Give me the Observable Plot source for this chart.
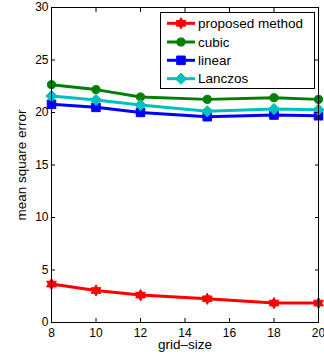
<!DOCTYPE html>
<html><head><meta charset="utf-8">
<script src="https://cdn.jsdelivr.net/npm/d3@7"></script>
<script src="https://cdn.jsdelivr.net/npm/@observablehq/plot@0.6"></script>
<style>body{margin:0;background:#fff}#chart{width:324px;height:356px}</style>
</head><body><div id="chart"></div>
<script>
const gridSize = [8, 10, 12, 15, 18, 20];
const proposed = [3.66, 3.05, 2.61, 2.26, 1.85, 1.85];
const cubic = [22.65, 22.18, 21.48, 21.25, 21.41, 21.25];
const linear = [20.78, 20.49, 20.01, 19.60, 19.76, 19.69];
const lanczos = [21.57, 21.19, 20.71, 20.11, 20.33, 20.27];
const seriesNames = ["proposed method", "cubic", "linear", "Lanczos"];
const seriesValues = [proposed, cubic, linear, lanczos];
const seriesColors = ["#ff0000", "#008000", "#0000ff", "#00bfbf"];
const xTicks = [8, 10, 12, 14, 16, 18, 20];
const yTicks = [0, 5, 10, 15, 20, 25, 30];

const hexagram = {draw(ctx, size) {
  const R = Math.sqrt(size / Math.PI) * 1.25, r = R / Math.sqrt(3);
  for (let i = 0; i < 12; i++) {
    const a = -Math.PI / 2 + i * Math.PI / 6, rr = i % 2 ? r : R;
    const x = rr * Math.cos(a), y = rr * Math.sin(a);
    i ? ctx.lineTo(x, y) : ctx.moveTo(x, y);
  }
  ctx.closePath();
}};
const diamond = {draw(ctx, size) {
  const R = Math.sqrt(size / Math.PI) * 1.25;
  ctx.moveTo(0, -R); ctx.lineTo(R, 0); ctx.lineTo(0, R); ctx.lineTo(-R, 0); ctx.closePath();
}};
const circle = {draw(ctx, size) { const r = Math.sqrt(size / Math.PI) * 0.9; ctx.moveTo(r, 0); ctx.arc(0, 0, r, 0, 2 * Math.PI); }};
const square = {draw(ctx, size) { const s = Math.sqrt(size / Math.PI) * 0.95; ctx.rect(-s, -s, 2 * s, 2 * s); }};
const symbols = [hexagram, circle, square, diamond];

const rows = [];
seriesNames.forEach((name, i) => gridSize.forEach((g, j) => rows.push({series: name, idx: i, x: g, y: seriesValues[i][j]})));

const fontFamily = "'Liberation Sans', Arial, Helvetica, sans-serif";
const marks = [];
seriesNames.forEach((name, i) => {
  const data = rows.filter(d => d.idx === i);
  marks.push(Plot.line(data, {x: "x", y: "y", stroke: seriesColors[i], strokeWidth: 3}));
  marks.push(Plot.dot(data, {x: "x", y: "y", symbol: () => symbols[i], r: 4.5, fill: seriesColors[i], stroke: seriesColors[i], strokeWidth: 1}));
});

const blank = () => "";
const chart = Plot.plot({
  width: 324, height: 356,
  marginLeft: 51, marginRight: 6, marginTop: 7, marginBottom: 34,
  style: {fontFamily, fontSize: "13.5px", color: "#000", background: "#fff"},
  x: {domain: [8, 20]},
  y: {domain: [0, 30]},
  marks: [
    ...marks,
    Plot.axisX(xTicks, {anchor: "bottom", tickSize: 0, tickPadding: 6, label: null, fontSize: 12}),
    Plot.axisX([], {anchor: "bottom", tickSize: 0, tickFormat: blank, label: "grid–size", labelAnchor: "center", labelArrow: "none", labelOffset: 26, fontSize: 13.5}),
    Plot.axisX(xTicks, {anchor: "bottom", tickSize: -4, tickFormat: blank, label: null}),
    Plot.axisX(xTicks, {anchor: "top", tickSize: -4, tickFormat: blank, label: null}),
    Plot.axisY(yTicks, {anchor: "left", tickSize: 0, tickPadding: 3, label: null, fontSize: 12}),
    Plot.axisY([], {anchor: "left", tickSize: 0, tickFormat: blank, label: "mean square error", labelAnchor: "center", labelArrow: "none", labelOffset: 35.5, fontSize: 13.5}),
    Plot.axisY(yTicks, {anchor: "left", tickSize: -4, tickFormat: blank, label: null}),
    Plot.axisY(yTicks, {anchor: "right", tickSize: -4, tickFormat: blank, label: null}),
    Plot.frame({stroke: "#000", strokeWidth: 1})
  ]
});
document.getElementById("chart").appendChild(chart);

// legend
const svg = d3.select(chart);
const lg = svg.append("g").attr("font-family", fontFamily).attr("font-size", 13.5).attr("text-anchor", "start");
lg.append("rect").attr("x", 160.5).attr("y", 12.5).attr("width", 154).attr("height", 76).attr("fill", "#fff").attr("stroke", "#000").attr("stroke-width", 1);
const rowY = [23.3, 42, 60.3, 78.7];
seriesNames.forEach((name, i) => {
  const g = lg.append("g").attr("transform", `translate(0,${rowY[i]})`);
  g.append("line").attr("x1", 167).attr("x2", 195).attr("stroke", seriesColors[i]).attr("stroke-width", 3);
  g.append("path").attr("transform", "translate(181,0)").attr("d", d3.symbol(symbols[i], 4.5 * 4.5 * Math.PI)()).attr("fill", seriesColors[i]).attr("stroke", seriesColors[i]);
  g.append("text").attr("x", 198).attr("dy", "0.35em").attr("fill", "#000").text(name);
});
</script>
</body></html>
